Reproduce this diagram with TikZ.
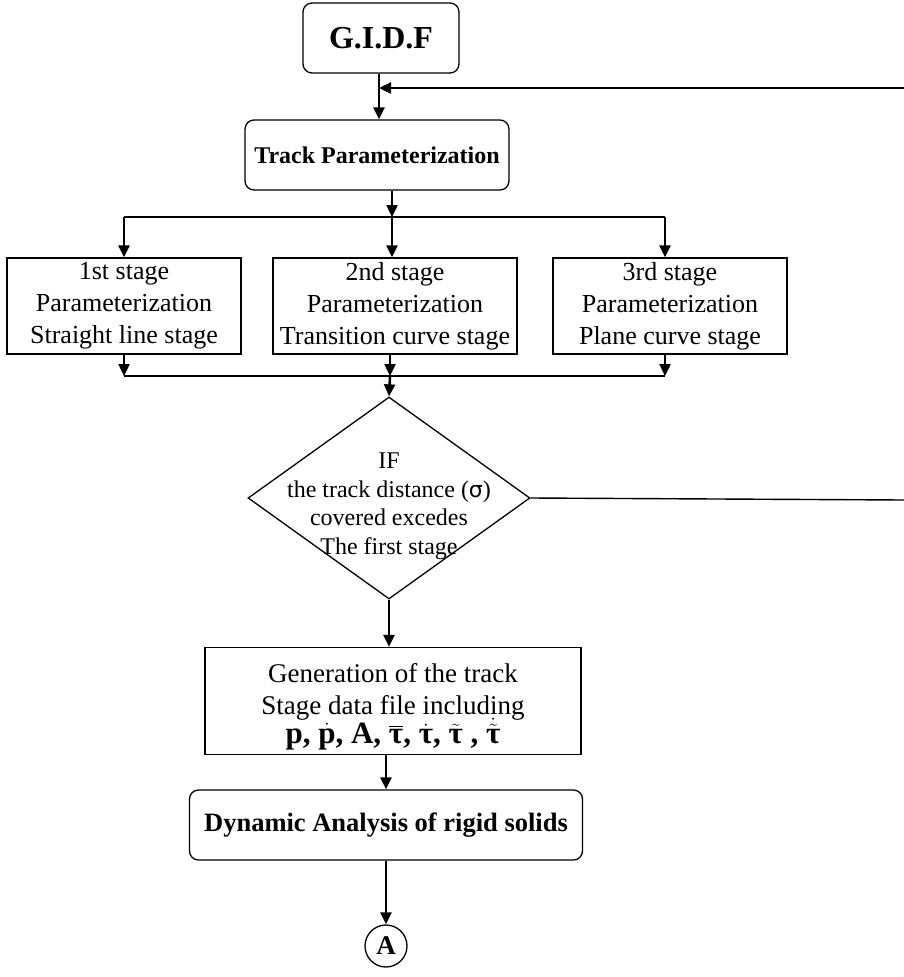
\documentclass[tikz,border=0pt]{standalone}
\usepackage{amsmath}
\usepackage{fontspec}
\setmainfont{Liberation Serif}
\newfontfamily\sigfont{DejaVu Sans}
\usetikzlibrary{shapes.geometric,arrows.meta}
\newcommand{\bsym}[1]{\text{\bfseries #1}}
\begin{document}
\begin{tikzpicture}[x=1pt,y=-1pt,
  box/.style={draw,line width=1.3pt,inner sep=0pt,align=center},
  rbox/.style={box,rounded corners=9pt},
  flow/.style={line width=2.4pt,-{Triangle[length=12pt,width=11pt]}},
  bus/.style={line width=1.4pt},
  txt/.style={font=\fontsize{26}{32}\selectfont},
  btxt/.style={font=\fontsize{24}{30}\selectfont\bfseries}]
\useasboundingbox (0,0) rectangle (904,977);

% boxes
\node[rbox,minimum width=156pt,minimum height=70pt,
      font=\fontsize{32}{38}\selectfont\bfseries] (gidf) at (381,38) {G.I.D.F};
\node[rbox,minimum width=264pt,minimum height=70pt,btxt] (track) at (377,155) {Track Parameterization};

\node[box,minimum width=234pt,minimum height=96pt,txt] (s1) at (124,306)
  {1st stage\\Parameterization\\Straight line stage};
\node[box,minimum width=244pt,minimum height=96pt,txt] (s2) at (395,306)
  {2nd stage\\Parameterization\\Transition curve stage};
\node[box,minimum width=234pt,minimum height=96pt,txt] (s3) at (670,306)
  {3rd stage\\Parameterization\\Plane curve stage};

\node[draw,diamond,line width=1.3pt,inner sep=0pt,minimum width=282pt,minimum height=202pt] (dec) at (389,498) {};
\node[align=center,font=\fontsize{24}{28.5}\selectfont] (dectext) at (389,506)
  {IF\\the track distance ({\sigfont\fontsize{22}{28}\selectfont σ})\\covered excedes\\The first stage};

\node[box,minimum width=376pt,minimum height=107pt] (gen) at (393,701) {};
\node[align=center,font=\fontsize{27}{32}\selectfont] (gentext) at (393,707)
  {Generation of the track\\Stage data file including\\[-3pt]
   \fontsize{31}{34}\selectfont\bfseries
   p, $\dot{\bsym{p}}$, A, $\overline{\bsym{τ}}$, $\dot{\bsym{τ}}$,
   $\tilde{\bsym{τ}}$ , $\dot{\tilde{\bsym{τ}}}$};

\node[rbox,minimum width=393pt,minimum height=70pt,
      font=\fontsize{26.5}{32}\selectfont\bfseries] (dyn) at (386,825) {Dynamic Analysis of rigid solids};

\node[draw,circle,line width=1.3pt,minimum size=42pt,inner sep=0pt,
      font=\fontsize{27}{30}\selectfont\bfseries] (conA) at (386,946) {A};

% connector points
\coordinate (fbtop) at (904,88);
\coordinate (fbmid) at (904,500);
\coordinate (ctop) at (379,88);
\coordinate (busT) at (392,217);
\coordinate (busTl) at (124,217);
\coordinate (busTr) at (665,217);
\coordinate (busB) at (390,376);
\coordinate (busBl) at (124,376);
\coordinate (busBr) at (665,376);

% feedback line into the main column
\draw[line width=2.4pt] (gidf.south -| ctop) -- ++(0,4) coordinate (gs);
\draw[flow] (fbtop) -- (ctop);
\draw[flow] (gs) -- (track.north -| ctop);

% distribution to the three stages
\draw[flow] (track.south -| busT) -- (busT);
\draw[bus] (busTl) -- (busTr);
\draw[flow] (busTl) -- (s1.north -| busTl);
\draw[flow] (busT) -- (s2.north -| busT);
\draw[flow] (busTr) -- (s3.north -| busTr);

% collection into the decision
\draw[flow] (s1.south -| busBl) -- (busBl);
\draw[flow] (s2.south -| busB) -- (busB);
\draw[flow] (s3.south -| busBr) -- (busBr);
\draw[bus] (busBl) -- (busBr);
\draw[flow] (busB) -- (dec.north);

\draw[bus] (dec.east) -- (fbmid);

\draw[flow] (dec.south) -- (gen.north -| dec.south);
\draw[flow] (gen.south -| dyn.north) -- (dyn.north);
\draw[flow] (dyn.south) -- (conA.north);
\end{tikzpicture}
\end{document}
